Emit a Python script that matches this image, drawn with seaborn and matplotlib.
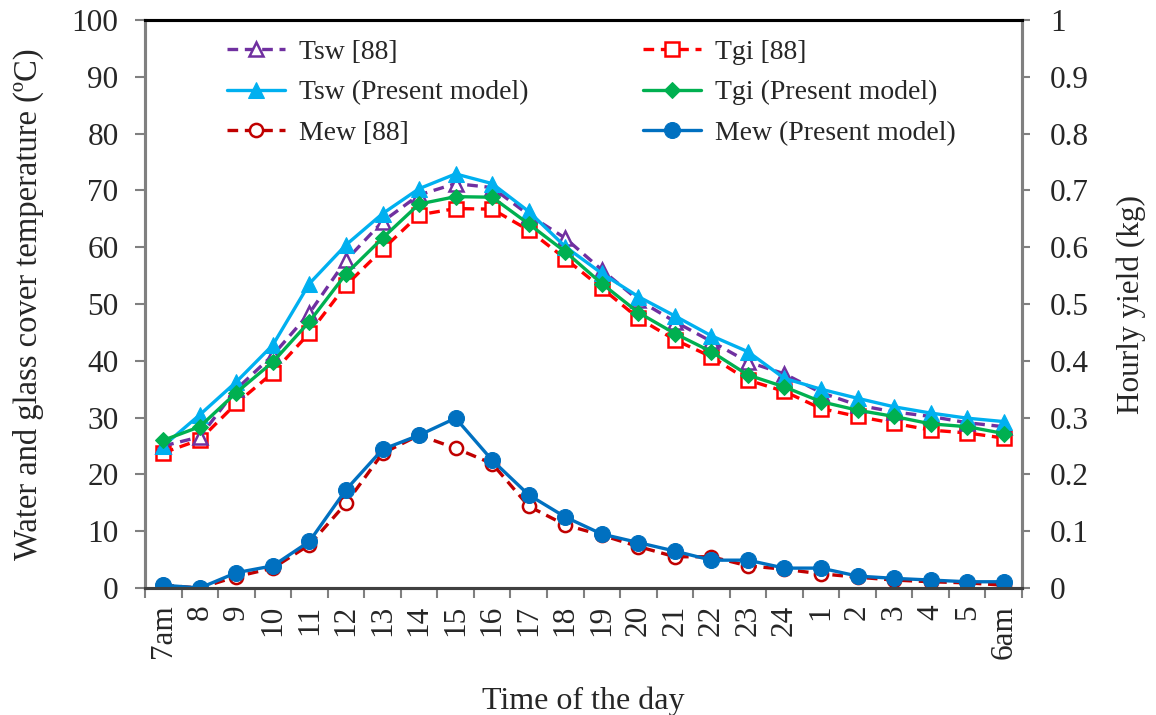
import numpy as np
import pandas as pd
import matplotlib
matplotlib.use("Agg")
import matplotlib.pyplot as plt
import seaborn as sns
from matplotlib.ticker import FormatStrFormatter, FixedLocator

# ---------------- data ----------------
hours = ["7am", "8", "9", "10", "11", "12", "13", "14", "15", "16", "17", "18",
         "19", "20", "21", "22", "23", "24", "1", "2", "3", "4", "5", "6am"]

tsw_ref = [25.0, 26.6, 35.0, 41.0, 48.4, 57.7, 64.5, 69.2, 71.2, 70.5, 65.7, 61.6,
           56.0, 50.7, 46.9, 43.4, 39.8, 37.7, 34.4, 32.2, 31.0, 30.2, 29.1, 28.4]
tsw_pm = [25.0, 30.5, 36.3, 42.8, 53.6, 60.4, 65.9, 70.3, 72.9, 71.2, 66.3, 60.1,
          55.4, 51.3, 47.9, 44.4, 41.6, 36.9, 35.0, 33.4, 31.9, 30.8, 29.9, 29.3]
tgi_ref = [23.8, 26.1, 32.5, 37.9, 44.9, 53.3, 59.6, 65.7, 66.8, 66.7, 63.0, 58.0,
           52.8, 47.5, 43.7, 40.7, 36.6, 34.6, 31.6, 30.2, 29.0, 27.8, 27.3, 26.4]
tgi_pm = [26.0, 28.4, 34.4, 39.8, 46.9, 55.3, 61.6, 67.6, 68.9, 68.8, 64.1, 59.2,
          53.6, 48.5, 44.8, 41.6, 37.5, 35.4, 32.8, 31.3, 30.2, 28.9, 28.4, 27.2]
mew_ref = [0.005, 0.000, 0.020, 0.035, 0.076, 0.149, 0.237, 0.269, 0.246, 0.219, 0.144, 0.111,
           0.093, 0.073, 0.055, 0.055, 0.039, 0.033, 0.025, 0.019, 0.014, 0.011, 0.009, 0.005]
mew_pm = [0.005, 0.000, 0.027, 0.039, 0.082, 0.173, 0.244, 0.269, 0.299, 0.225, 0.164, 0.125,
          0.095, 0.080, 0.065, 0.049, 0.049, 0.035, 0.035, 0.021, 0.017, 0.014, 0.011, 0.011]

df = pd.DataFrame({"x": np.arange(len(hours)), "tsw_ref": tsw_ref, "tsw_pm": tsw_pm,
                   "tgi_ref": tgi_ref, "tgi_pm": tgi_pm, "mew_ref": mew_ref, "mew_pm": mew_pm})

# ---------------- style ----------------
sns.set_style("ticks")
plt.rcParams["font.family"] = ["Liberation Serif", "DejaVu Serif"]

fig = plt.figure(figsize=(11.56, 7.15), dpi=100)
W, H = 1156, 715
ax = fig.add_axes([145 / W, (H - 588) / H, (1022 - 145) / W, (588 - 20) / H])
ax2 = ax.twinx()

dash = (0, (3.2, 2.0))
LW = 2.4

sns.lineplot(data=df, x="x", y="tgi_ref", ax=ax, color="#FF0000", linestyle=dash, lw=LW,
             marker="s", markersize=9.5, markerfacecolor="white", markeredgecolor="#FF0000",
             markeredgewidth=1.8, label="Tgi [88]", legend=False, errorbar=None)
sns.lineplot(data=df, x="x", y="tsw_ref", ax=ax, color="#7030A0", linestyle=dash, lw=LW,
             marker="^", markersize=10, markerfacecolor="white", markeredgecolor="#7030A0",
             markeredgewidth=1.8, label="Tsw [88]", legend=False, errorbar=None)
sns.lineplot(data=df, x="x", y="tsw_pm", ax=ax, color="#00B0F0", linestyle="-", lw=LW,
             marker="^", markersize=11, markerfacecolor="#00B0F0", markeredgecolor="#00B0F0",
             label="Tsw (Present model)", legend=False, errorbar=None)
sns.lineplot(data=df, x="x", y="tgi_pm", ax=ax, color="#00B050", linestyle="-", lw=LW,
             marker="D", markersize=8, markerfacecolor="#00B050", markeredgecolor="#00B050",
             label="Tgi (Present model)", legend=False, errorbar=None)
sns.lineplot(data=df, x="x", y="mew_ref", ax=ax2, color="#C00000", linestyle=dash, lw=LW,
             marker="o", markersize=9.5, markerfacecolor="white", markeredgecolor="#C00000",
             markeredgewidth=1.8, label="Mew [88]", legend=False, errorbar=None)
sns.lineplot(data=df, x="x", y="mew_pm", ax=ax2, color="#0070C0", linestyle="-", lw=LW,
             marker="o", markersize=11.5, markerfacecolor="#0070C0", markeredgecolor="#0070C0",
             label="Mew (Present model)", legend=False, errorbar=None)

# ---------------- axes ----------------
FS = 22.5
ax.set_xlim(-0.5, len(hours) - 0.5)
ax.set_ylim(0, 100)
ax2.set_ylim(0, 1)
ax.set_yticks(np.arange(0, 101, 10))
ax2.set_yticks(np.arange(0, 1.01, 0.1))
ax2.yaxis.set_major_formatter(FormatStrFormatter("%g"))

ax.set_xticks(np.arange(len(hours)))
ax.set_xticklabels(hours, rotation=90, fontsize=FS)
ax.xaxis.set_minor_locator(FixedLocator(np.arange(-0.5, len(hours), 1)))
ax.tick_params(axis="x", which="major", length=0, pad=12)
ax.tick_params(axis="x", which="minor", length=7, width=1.5, color="#808080", direction="out")
ax.tick_params(axis="y", length=7, width=1.5, color="#808080", labelsize=FS, pad=12)
ax2.tick_params(axis="y", length=6, width=1.5, color="#808080", labelsize=FS, pad=14)

ax.set_xlabel("Time of the day", fontsize=23, labelpad=20)
ax.set_ylabel("Water and glass cover temperature (ºC)", fontsize=23.5, labelpad=20)
ax2.set_ylabel("Hourly yield (kg)", fontsize=22.5, labelpad=20)

for a in (ax, ax2):
    for side in ("left", "right"):
        a.spines[side].set_color("#808080")
        a.spines[side].set_linewidth(2.2)
        a.spines[side].set_visible(True)
    a.spines["top"].set_color("black")
    a.spines["top"].set_linewidth(2.2)
    a.spines["top"].set_visible(True)
    a.spines["bottom"].set_color("#404040")
    a.spines["bottom"].set_linewidth(2.2)

h1, l1 = ax.get_legend_handles_labels()
h2, l2 = ax2.get_legend_handles_labels()
hd = dict(zip(l1 + l2, h1 + h2))
order = ["Tsw [88]", "Tsw (Present model)", "Mew [88]",
         "Tgi [88]", "Tgi (Present model)", "Mew (Present model)"]
leg = ax2.legend([hd[k] for k in order], order, ncol=2, frameon=False, fontsize=20,
                 loc="upper left", bbox_to_anchor=(0.065, 1.01), handlelength=2.1,
                 handletextpad=0.5, columnspacing=4.1, labelspacing=0.55)

fig.savefig("out.png", dpi=100)
